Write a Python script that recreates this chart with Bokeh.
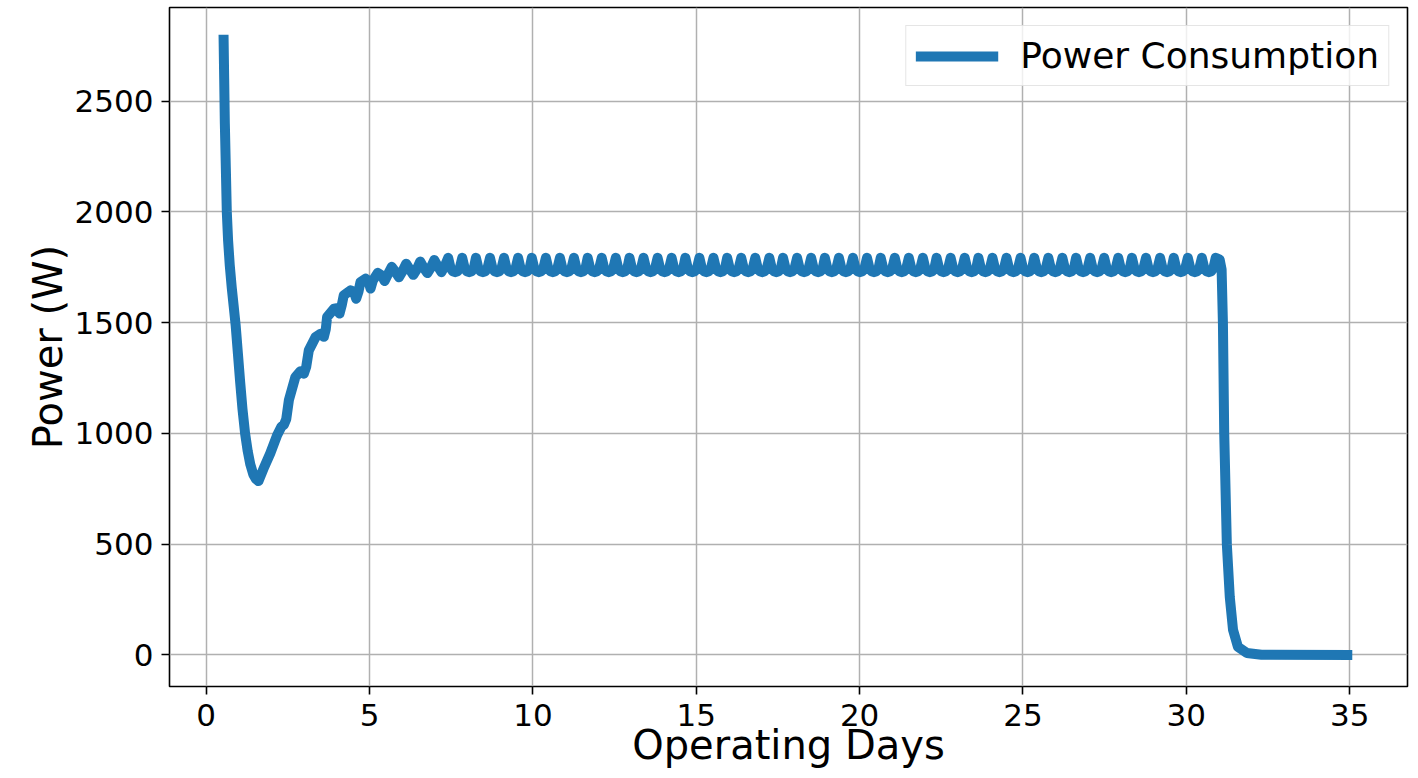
from bokeh.plotting import figure
from bokeh.models import FixedTicker, Range1d, Legend, LegendItem, ColumnDataSource
from bokeh.embed import file_html
from bokeh.resources import INLINE

# ---- data ----
early_days = [0.53, 0.55, 0.57, 0.60, 0.63, 0.67, 0.72, 0.78, 0.84, 0.90, 0.97, 1.04, 1.11, 1.19,
              1.27, 1.35, 1.44, 1.52, 1.60, 1.78, 1.96, 2.17, 2.30,
              2.38, 2.45, 2.53, 2.73, 2.88, 2.99, 3.06, 3.14, 3.35, 3.50, 3.60, 3.66, 3.70, 3.91,
              4.00, 4.08, 4.15, 4.21, 4.42, 4.52, 4.59, 4.66, 4.72, 4.88, 4.96, 5.03, 5.10, 5.25,
              5.38, 5.46, 5.55, 5.68, 5.80, 5.90, 6.00, 6.12, 6.24, 6.34, 6.44, 6.55, 6.67, 6.77,
              6.87, 6.98, 7.10, 7.20, 7.30]
early_watts = [2800, 2600, 2400, 2200, 2000, 1870, 1760, 1660, 1575, 1490, 1360, 1230, 1110, 1000,
               920, 860, 815, 795, 785, 850, 910, 992, 1030,
               1040, 1065, 1150, 1255, 1280, 1270, 1300, 1375, 1436, 1450, 1436, 1470, 1526, 1563,
               1565, 1541, 1580, 1624, 1646, 1640, 1608, 1640, 1683, 1699, 1690, 1654, 1690, 1725,
               1712, 1688, 1715, 1752, 1728, 1705, 1730, 1766, 1738, 1716, 1740, 1776, 1745, 1724,
               1748, 1783, 1752, 1728, 1755]

plateau_dip_days = [7.62, 8.05, 8.47, 8.90, 9.33, 9.76, 10.18, 10.61, 11.04, 11.47, 11.89, 12.32,
                    12.75, 13.17, 13.60, 14.03, 14.46, 14.88, 15.31, 15.74, 16.16, 16.59, 17.02,
                    17.45, 17.87, 18.30, 18.73, 19.15, 19.58, 20.01, 20.44, 20.86, 21.29, 21.72,
                    22.15, 22.57, 23.00, 23.43, 23.85, 24.28, 24.71, 25.14, 25.56, 25.99, 26.42,
                    26.84, 27.27, 27.70, 28.13, 28.55, 28.98, 29.41, 29.83, 30.26, 30.69]
plateau_top_w = 1793
plateau_dip_w = 1728
dip_profile_offset = [-0.214, -0.14, -0.07, 0.0, 0.07, 0.14]
dip_profile_depth = [0.0, 0.72, 0.94, 1.0, 0.94, 0.72]

end_days = [30.90, 31.02, 31.08, 31.12, 31.16, 31.24, 31.33, 31.43, 31.58, 31.85, 32.30, 35.08]
end_watts = [1793, 1785, 1740, 1500, 1000, 500, 262, 113, 36, 9, 1, 0]

x_ticks = [0, 5, 10, 15, 20, 25, 30, 35]
y_ticks = [0, 500, 1000, 1500, 2000, 2500]

# ---- assemble the line table ----
xs = list(early_days)
ys = list(early_watts)
for d in plateau_dip_days:
    for off, dep in zip(dip_profile_offset, dip_profile_depth):
        xs.append(d + off)
        ys.append(plateau_top_w - dep * (plateau_top_w - plateau_dip_w))
xs += end_days
ys += end_watts
src = ColumnDataSource(dict(x=xs, y=ys))

FONT = "DejaVu Sans"
X0, X1 = -1.124, 36.77
Y0, Y1 = -142.5, 2923

p = figure(width=1410, height=770, output_backend="svg", toolbar_location=None,
           x_range=Range1d(X0, X1), y_range=Range1d(Y0, Y1),
           min_border_left=169, min_border_right=3, min_border_top=7, min_border_bottom=83)
p.background_fill_color = "white"
p.border_fill_color = "white"
p.outline_line_color = "black"
p.outline_line_width = 1.6

r = p.line("x", "y", source=src, line_color="#1f77b4", line_width=10, line_join="round",
           line_cap="butt")

for ax in (p.xaxis[0], p.yaxis[0]):
    ax.axis_line_color = None
    ax.major_tick_line_color = "black"
    ax.major_tick_line_width = 1.6
    ax.major_tick_in = 0
    ax.major_tick_out = 8
    ax.minor_tick_line_color = None
    ax.major_label_text_font = FONT
    ax.major_label_text_font_size = "31px"
    ax.major_label_text_color = "black"
    ax.axis_label_text_font = FONT
    ax.axis_label_text_font_size = "40px"
    ax.axis_label_text_font_style = "normal"
    ax.axis_label_text_color = "black"

p.xaxis.ticker = FixedTicker(ticks=x_ticks)
p.yaxis.ticker = FixedTicker(ticks=y_ticks)
p.xaxis.major_label_standoff = 9
p.yaxis.major_label_standoff = 8
p.xaxis.axis_label = "Operating Days"
p.yaxis.axis_label = "Power (W)"
p.xaxis.axis_label_standoff = -7
p.yaxis.axis_label_standoff = 1

p.grid.grid_line_color = "#b0b0b0"
p.grid.grid_line_width = 1.5
p.xgrid.ticker = FixedTicker(ticks=x_ticks)
p.ygrid.ticker = FixedTicker(ticks=y_ticks)

legend = Legend(items=[LegendItem(label="Power Consumption", renderers=[r])],
                location="top_right", margin=18, padding=9, spacing=0,
                glyph_width=83, glyph_height=30, label_standoff=22,
                label_text_font=FONT, label_text_font_size="36px", label_text_color="black",
                border_line_color="#cccccc", border_line_width=1.5,
                background_fill_color="white", background_fill_alpha=0.8)
p.add_layout(legend)

open("out.html", "w").write(file_html(p, INLINE))
